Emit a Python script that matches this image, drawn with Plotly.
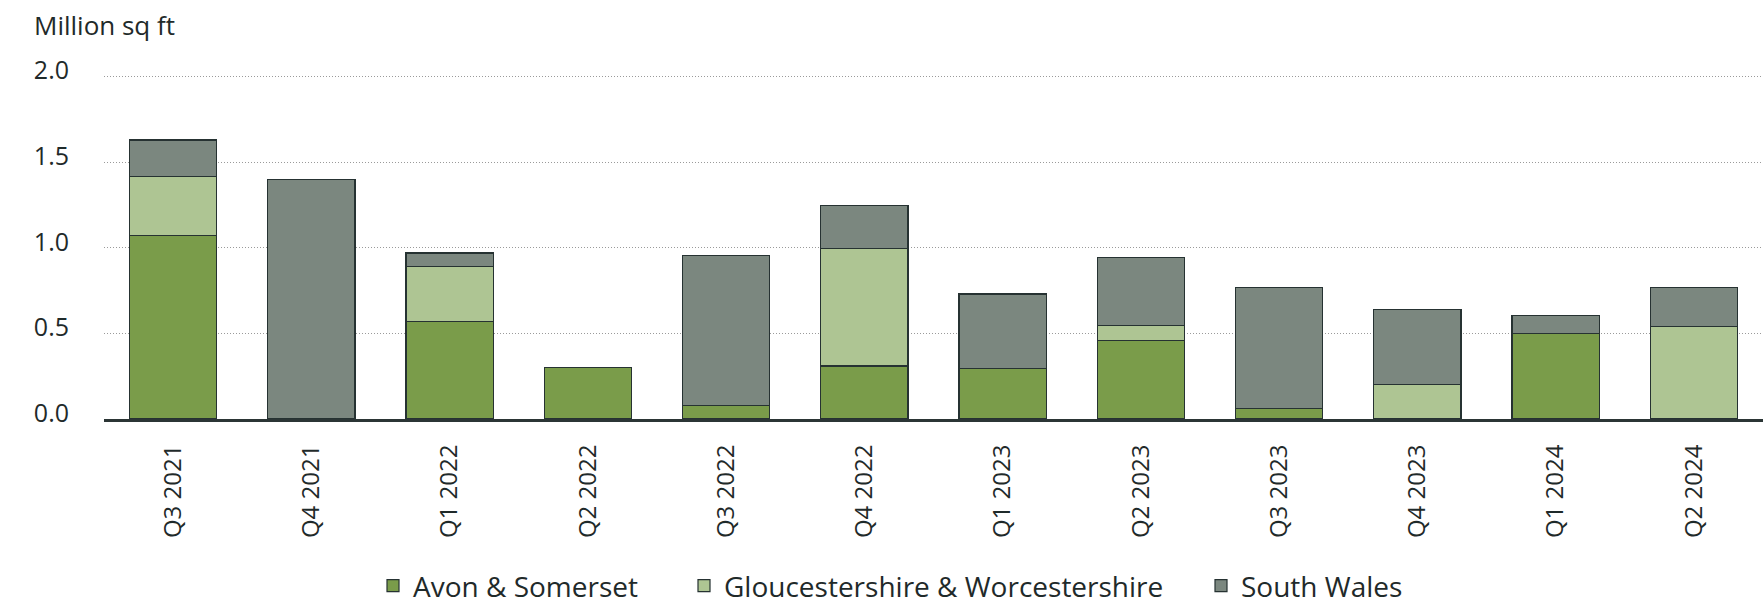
import plotly.graph_objects as go

categories = ["Q3 2021", "Q4 2021", "Q1 2022", "Q2 2022", "Q3 2022", "Q4 2022",
              "Q1 2023", "Q2 2023", "Q3 2023", "Q4 2023", "Q1 2024", "Q2 2024"]
avon = [1.07, 0.00, 0.57, 0.30, 0.08, 0.31, 0.295, 0.46, 0.06, 0.00, 0.50, 0.00]
glouc = [0.345, 0.00, 0.32, 0.00, 0.00, 0.685, 0.00, 0.085, 0.00, 0.20, 0.00, 0.54]
wales = [0.215, 1.40, 0.08, 0.00, 0.875, 0.25, 0.435, 0.40, 0.71, 0.44, 0.105, 0.23]
y_ticks = [0.0, 0.5, 1.0, 1.5, 2.0]
y_tick_labels = ["0.0", "0.5", "1.0", "1.5", "2.0"]

series = [
    ("Avon & Somerset", avon, "#7a9c4a", "legend", 373),
    ("Gloucestershire & Worcestershire", glouc, "#aec593", "legend2", 684),
    ("South Wales", wales, "#7b877f", "legend3", 1201),
]

FONT = "Open Sans"
TXT = "#1f2a2a"
W, H = 1763, 604

fig = go.Figure()
legend_layout = {}
for name, vals, col, lg, lx in series:
    fig.add_trace(go.Bar(
        x=categories, y=vals, name=name, legend=lg,
        marker=dict(color=col, line=dict(color="#263232", width=1.2)),
    ))
    legend_layout[lg] = dict(
        orientation="h", xref="container", yref="container",
        x=lx / W, y=1 - 586 / H, xanchor="left", yanchor="middle",
        font=dict(size=28, color=TXT, family=FONT), itemwidth=30,
        bgcolor="rgba(0,0,0,0)",
    )

fig.update_layout(
    barmode="stack",
    bargap=0.37,
    width=W, height=H,
    margin=dict(l=104, r=0, t=68, b=185),
    paper_bgcolor="white", plot_bgcolor="white",
    font=dict(family=FONT, size=24, color=TXT),
    showlegend=True,
    **legend_layout,
)
fig.update_xaxes(
    type="category", tickangle=-90, automargin=False,
    showline=True, linecolor="#2b3535", linewidth=3,
    ticks="outside", ticklen=13, tickcolor="rgba(0,0,0,0)",
    showgrid=False, tickfont=dict(size=24, color=TXT),
)
fig.update_yaxes(
    range=[0, 2.05], tickvals=y_ticks, ticktext=y_tick_labels, automargin=False,
    showgrid=True, gridcolor="#9a9a9a", gridwidth=1, griddash="1px,2px",
    zeroline=False, ticklabelstandoff=34, ticklabelshift=-6,
    tickfont=dict(size=25, color=TXT),
)
fig.add_annotation(text="Million sq ft", xref="paper", yref="paper",
                   x=(32 - 104) / 1659, y=1 + (68 - 25) / 351, xanchor="left", yanchor="middle",
                   showarrow=False, font=dict(size=26, color=TXT, family=FONT))

fig.write_html("out.html", config={"displayModeBar": False},
               post_script="document.body.style.margin='0px';")
